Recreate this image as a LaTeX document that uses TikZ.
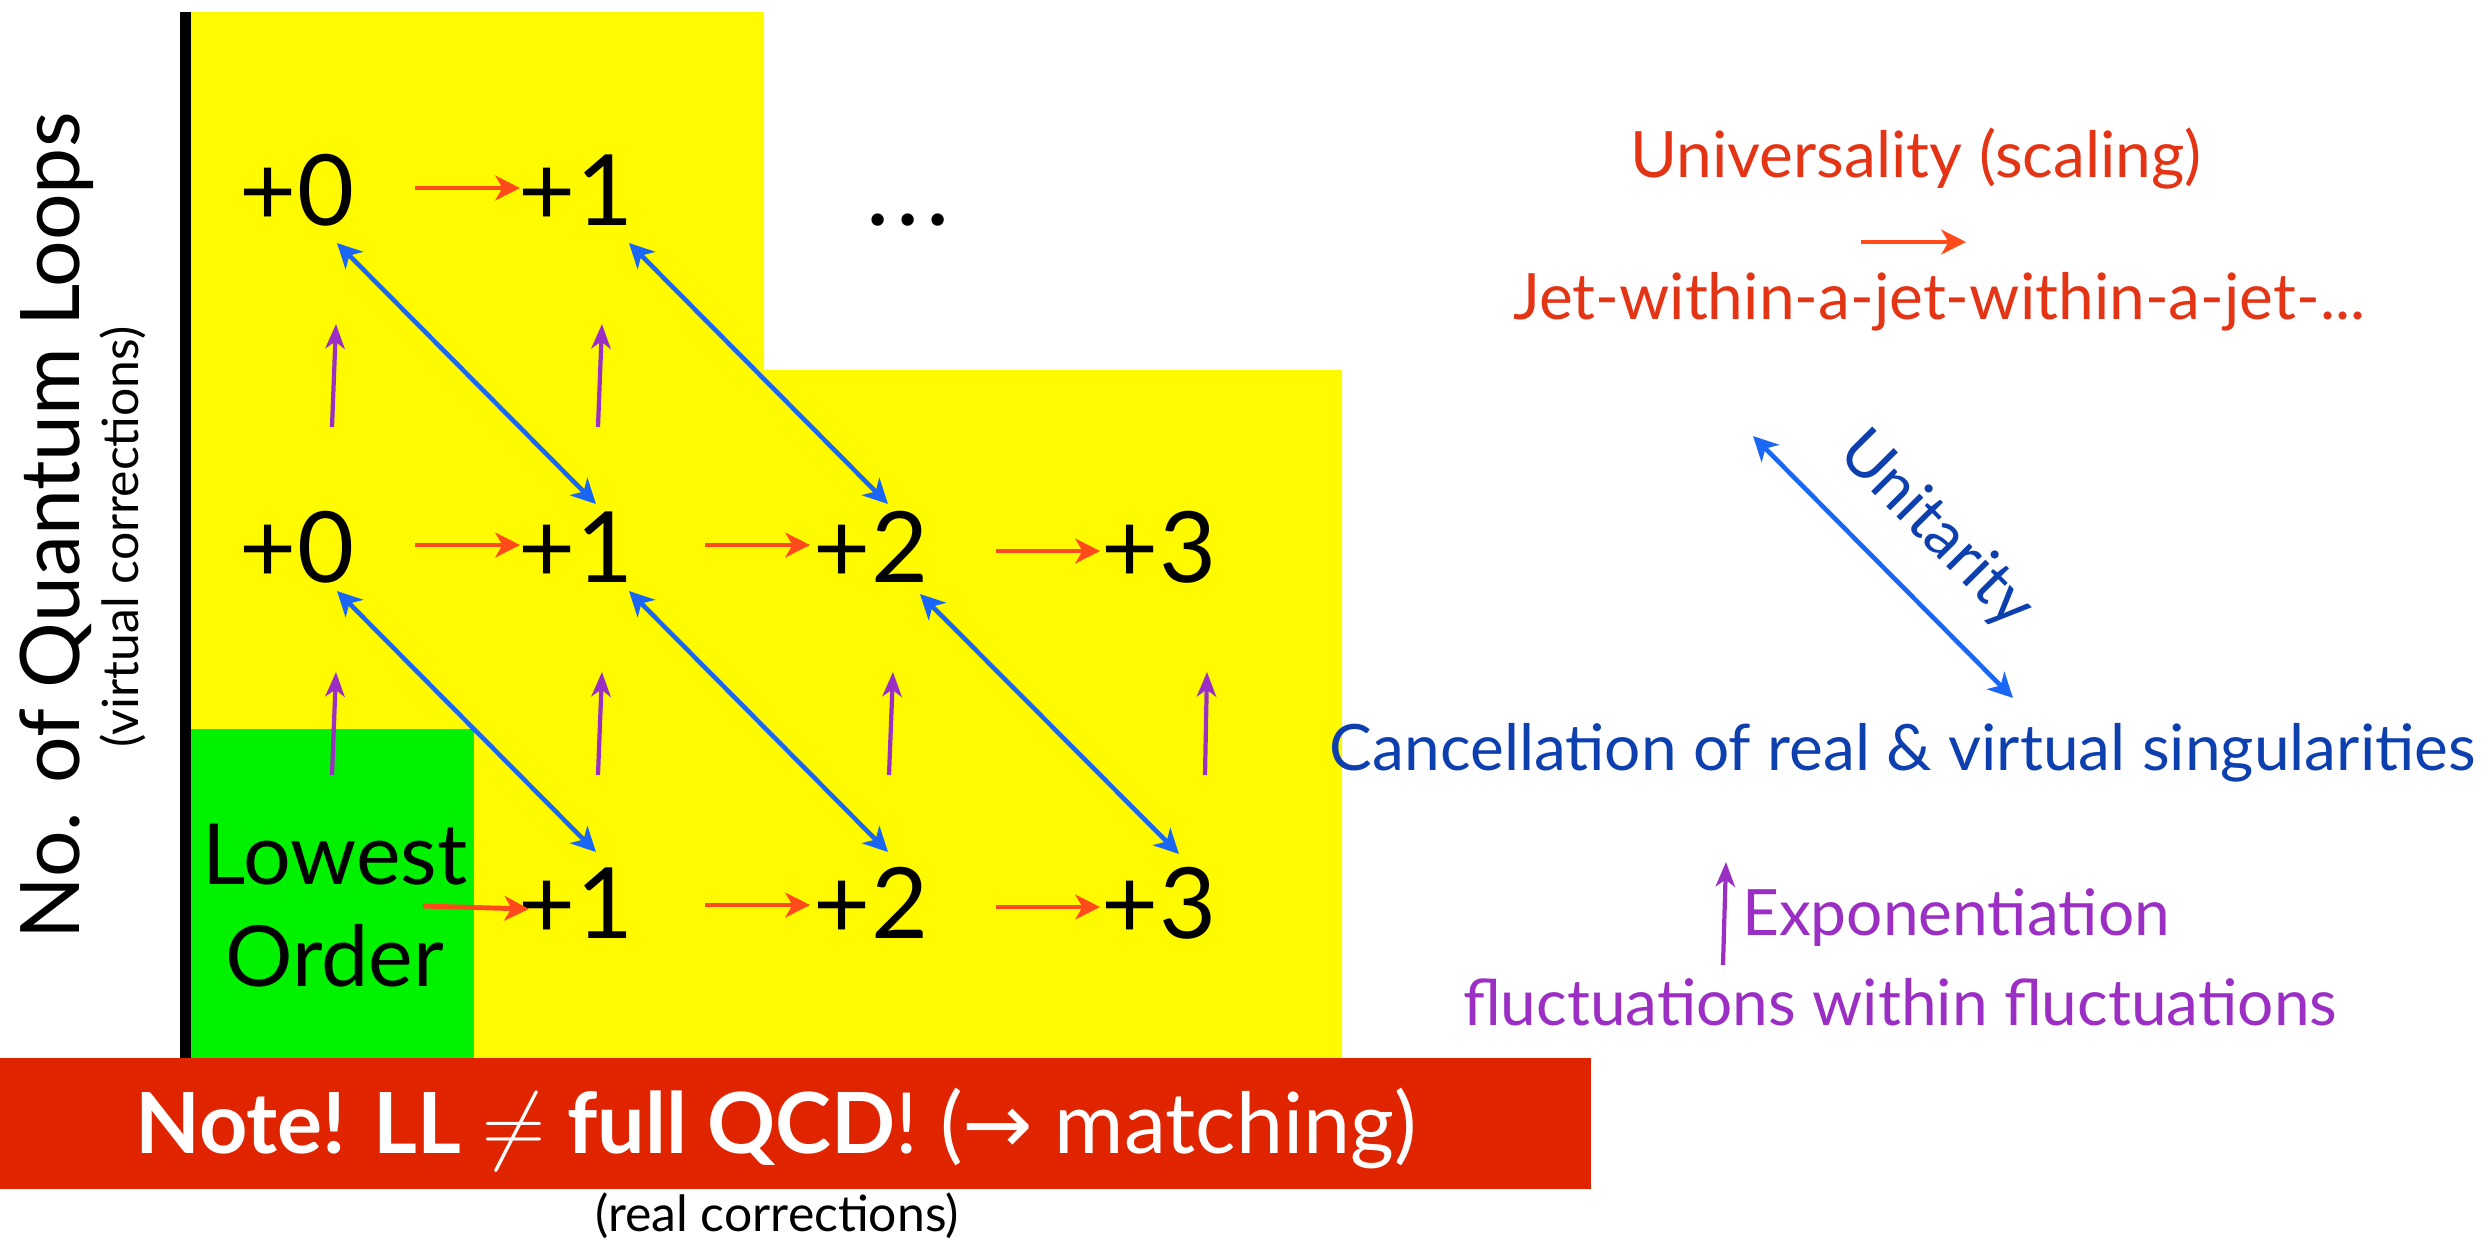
\documentclass[tikz,border=0pt]{standalone}
\usepackage{fontspec}
\setmainfont{Lato}
\newfontfamily\symfont{DejaVu Sans}
\usetikzlibrary{arrows.meta, positioning}
\definecolor{boxyellow}{HTML}{FFFA00}
\definecolor{boxgreen}{HTML}{00F200}
\definecolor{bannerred}{HTML}{E02400}
\definecolor{scalered}{HTML}{FF4A1A}
\definecolor{textred}{HTML}{E33515}
\definecolor{unitblue}{HTML}{1A66F5}
\definecolor{textblue}{HTML}{0D3FAF}
\definecolor{exppurple}{HTML}{9B2FC4}
\tikzset{
	ordernode/.style={
			inner sep=0pt,
			font=\fontsize{28}{34}\selectfont
		},
	lownode/.style={
			inner sep=0pt,
			align=center,
			font=\fontsize{24}{29}\selectfont
		},
	sidetext/.style={
			inner sep=0pt,
			anchor=base,
			font=\fontsize{18.2}{22}\selectfont
		},
	smalltext/.style={
			inner sep=0pt,
			anchor=base,
			font=\fontsize{14.2}{17}\selectfont
		},
	scalearrow/.style={
			draw=scalered,
			line width=1.4pt,
			-{Stealth[length=7pt,width=7pt,inset=2pt]}
		},
	unitarrow/.style={
			draw=unitblue,
			line width=1.3pt,
			{Stealth[length=7pt,width=7pt,inset=2pt]}-{Stealth[length=7pt,width=7pt,inset=2pt]}
		},
	exparrow/.style={
			draw=exppurple,
			line width=1.2pt,
			-{Stealth[length=7pt,width=5.5pt,inset=2pt]}
		}
}

\begin{document}
\begin{tikzpicture}
\useasboundingbox (0,0) rectangle (24.88,-12.40);
    % coloured regions
    \fill[boxyellow] (1.86,-0.12) -- (7.64,-0.12) -- (7.64,-3.70) -- (13.42,-3.70) -- (13.42,-10.60) -- (1.86,-10.60) -- cycle;
    \fill[boxgreen] (1.86,-7.29) rectangle (4.74,-10.60);
    \draw[line width=0.11cm] (1.855,-0.12) -- (1.855,-10.60);

    \node[ordernode] (t0) at (2.97,-1.90) {+0};
    \node[ordernode] (t1) at (5.76,-1.90) {+1};
    \node[ordernode, anchor=base] (dots) at (9.08,-2.25) {.\kern2pt.\kern2pt.};

    \node[ordernode] (m0) at (2.97,-5.47) {+0};
    \node[ordernode] (m1) at (5.76,-5.47) {+1};
    \node[ordernode] (m2) at (8.71,-5.47) {+2};
    \node[ordernode] (m3) at (11.59,-5.47) {+3};

    \node[lownode] (lo) at (3.35,-9.06) {Lowest\\Order};
    \node[ordernode] (b1) at (5.76,-9.03) {+1};
    \node[ordernode] (b2) at (8.71,-9.03) {+2};
    \node[ordernode] (b3) at (11.59,-9.03) {+3};

    % real emissions
    \draw[scalearrow] ([shift={(1.18,0.02)}]t0.center) -- ([shift={(-0.56,0.02)}]t1.center);
    \draw[scalearrow] ([shift={(1.18,0.02)}]m0.center) -- ([shift={(-0.56,0.02)}]m1.center);
    \draw[scalearrow] ([shift={(1.29,0.02)}]m1.center) -- ([shift={(-0.61,0.02)}]m2.center);
    \draw[scalearrow] ([shift={(1.25,-0.04)}]m2.center) -- ([shift={(-0.59,-0.04)}]m3.center);
    \draw[scalearrow] ([shift={(0.88,0)}]lo.center) -- ([shift={(-0.47,-0.06)}]b1.center);
    \draw[scalearrow] ([shift={(1.29,-0.02)}]b1.center) -- ([shift={(-0.61,-0.02)}]b2.center);
    \draw[scalearrow] ([shift={(1.25,-0.04)}]b2.center) -- ([shift={(-0.59,-0.04)}]b3.center);

    % loops
    \draw[exparrow] ([shift={(-0.03,1.31)}]lo.center) -- ([shift={(0.39,-1.25)}]m0.center);
    \draw[exparrow] ([shift={(0.22,1.28)}]b1.center) -- ([shift={(0.26,-1.25)}]m1.center);
    \draw[exparrow] ([shift={(0.18,1.28)}]b2.center) -- ([shift={(0.22,-1.25)}]m2.center);
    \draw[exparrow] ([shift={(0.46,1.28)}]b3.center) -- ([shift={(0.48,-1.25)}]m3.center);
    \draw[exparrow] ([shift={(0.35,1.20)}]m0.center) -- ([shift={(0.39,-1.34)}]t0.center);
    \draw[exparrow] ([shift={(0.22,1.20)}]m1.center) -- ([shift={(0.26,-1.34)}]t1.center);

    % unitarity
    \draw[unitarrow] ([shift={(0.40,-0.53)}]t0.center) -- ([shift={(0.20,0.43)}]m1.center);
    \draw[unitarrow] ([shift={(0.53,-0.53)}]t1.center) -- ([shift={(0.17,0.43)}]m2.center);
    \draw[unitarrow] ([shift={(0.40,-0.44)}]m0.center) -- ([shift={(0.20,0.51)}]b1.center);
    \draw[unitarrow] ([shift={(0.53,-0.44)}]m1.center) -- ([shift={(0.17,0.51)}]b2.center);
    \draw[unitarrow] ([shift={(0.49,-0.47)}]m2.center) -- ([shift={(0.20,0.49)}]b3.center);

    % axes
    \node[inner sep=0pt, anchor=base, rotate=90, font=\fontsize{23.4}{28}\selectfont] (yaxis) at (0.79,-5.26) {No. of Quantum Loops};
    \node[smalltext, rotate=90] (ysub) at (1.38,-5.37) {(virtual corrections)};
    \node[smalltext] (xsub) at (7.77,-12.31) {(real corrections)};

    \fill[bannerred] (0,-10.58) rectangle (15.91,-11.89);
    \node[inner sep=0pt, anchor=base, text=white, font=\fontsize{24}{28}\selectfont] (note) at (7.76,-11.53)
        {\textbf{Note! LL} $\neq$ \textbf{full QCD}! ({\symfont →} matching)};

    % legend
    \node[sidetext, text=textred] (uni) at (19.16,-1.77) {Universality (scaling)};
    \node[sidetext, text=textred] (jet) at (19.39,-3.19) {Jet-within-a-jet-within-a-jet-...};
    \draw[scalearrow] ([shift={(-0.55,-0.65)}]uni.base) -- ([shift={(0.50,-0.65)}]uni.base);

    \node[sidetext, text=textblue] (canc) at (19.03,-7.70) {Cancellation of real \& virtual singularities};
    \coordinate (unitop) at (17.53,-4.36);
    \draw[unitarrow] (unitop) -- ([shift={(1.10,0.72)}]canc.base)
        node[pos=0.53, sloped, above=3.2mm, inner sep=0pt, text=textblue, font=\fontsize{18.2}{22}\selectfont] (unit) {Unitarity};

    \node[sidetext, text=exppurple] (expo) at (19.56,-9.35) {Exponentiation};
    \node[sidetext, text=exppurple] (fluct) at (19.00,-10.25) {fluctuations within fluctuations};
    \draw[exparrow] ([shift={(-2.33,-0.30)}]expo.base) -- ([shift={(-2.30,0.73)}]expo.base);
\end{tikzpicture}
\end{document}
